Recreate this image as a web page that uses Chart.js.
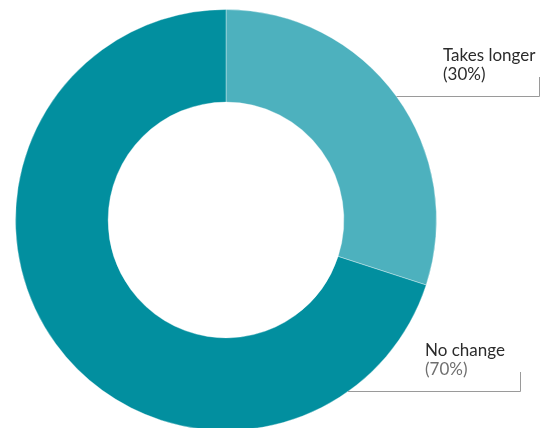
<!DOCTYPE html>
<html>
<head>
<meta charset="utf-8">
<script src="https://cdn.jsdelivr.net/npm/chart.js@4.4.1/dist/chart.umd.min.js"></script>
<style>
  html, body { margin: 0; padding: 0; background: #ffffff; overflow: hidden; }
  #wrap { width: 551px; height: 428px; overflow: hidden; }
  canvas { display: block; }
</style>
</head>
<body>
<div id="wrap"><canvas id="c" width="551" height="432"></canvas></div>
<script>
// Share of respondents by how long the process takes now
const categories = ['Takes longer', 'No change'];
const shares = [30, 70];
const percentLabels = ['(30%)', '(70%)'];
const sliceColors = ['#4db1be', '#028f9f'];

// Callout layout for each slice: elbow height, end x, top of the vertical tick, text anchor
const callouts = [
  { lineY: 96.5, endX: 539.5, tickTop: 77, textX: 443, textY: 61, pctColor: '#2b2b2b' },
  { lineY: 391.5, endX: 520.5, tickTop: 372, textX: 425, textY: 356, pctColor: '#6f6f6f' }
];

const calloutPlugin = {
  id: 'callouts',
  afterDatasetsDraw(chart) {
    const ctx = chart.ctx;
    const meta = chart.getDatasetMeta(0);
    meta.data.forEach((arc, i) => {
      const c = callouts[i];
      const r = arc.outerRadius;
      const dy = c.lineY - arc.y;
      const startX = arc.x + Math.sqrt(Math.max(r * r - dy * dy, 0));
      ctx.save();
      ctx.strokeStyle = '#9a9a9a';
      ctx.lineWidth = 1;
      ctx.beginPath();
      ctx.moveTo(startX, c.lineY);
      ctx.lineTo(c.endX, c.lineY);
      ctx.lineTo(c.endX, c.tickTop);
      ctx.stroke();
      ctx.font = '17px Lato';
      ctx.textAlign = 'left';
      ctx.textBaseline = 'alphabetic';
      ctx.fillStyle = '#2b2b2b';
      ctx.fillText(categories[i], c.textX, c.textY);
      ctx.fillStyle = c.pctColor;
      ctx.fillText(percentLabels[i], c.textX, c.textY + 19);
      ctx.restore();
    });
  }
};

new Chart(document.getElementById('c'), {
  type: 'doughnut',
  data: {
    labels: categories,
    datasets: [{
      data: shares,
      backgroundColor: sliceColors,
      borderColor: 'rgba(255,255,255,0.35)',
      borderWidth: 1
    }]
  },
  options: {
    responsive: false,
    animation: false,
    cutout: '56%',
    layout: { padding: { left: 15, top: 9, right: 114, bottom: 1 } },
    plugins: {
      legend: { display: false },
      tooltip: { enabled: false }
    }
  },
  plugins: [calloutPlugin]
});
</script>
</body>
</html>
